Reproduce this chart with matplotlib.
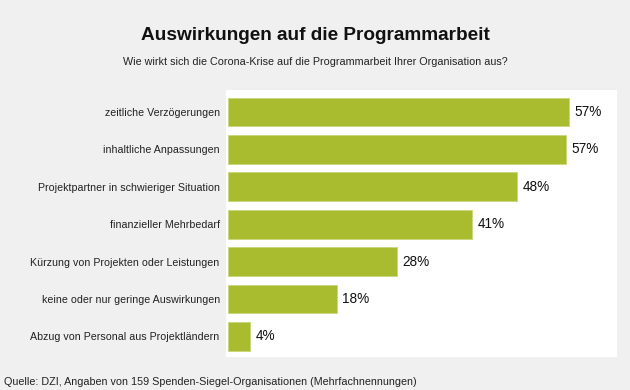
import matplotlib.pyplot as plt

categories = [
    "zeitliche Verzögerungen",
    "inhaltliche Anpassungen",
    "Projektpartner in schwieriger Situation",
    "finanzieller Mehrbedarf",
    "Kürzung von Projekten oder Leistungen",
    "keine oder nur geringe Auswirkungen",
    "Abzug von Personal aus Projektländern",
]
values = [56.9, 56.4, 48.2, 40.7, 28.2, 18.2, 3.7]
value_labels = ["57%", "57%", "48%", "41%", "28%", "18%", "4%"]

title = "Auswirkungen auf die Programmarbeit"
subtitle = "Wie wirkt sich die Corona-Krise auf die Programmarbeit Ihrer Organisation aus?"
source = "Quelle: DZI, Angaben von 159 Spenden-Siegel-Organisationen (Mehrfachnennungen)"

plt.rcParams['font.family'] = ['Liberation Sans', 'DejaVu Sans']

W, H = 630, 390
fig = plt.figure(figsize=(W / 100, H / 100), dpi=100)
fig.patch.set_facecolor('#f0f0f0')

left, right, top, bottom = 226, 617, 90, 357
ax = fig.add_axes([left / W, 1 - bottom / H, (right - left) / W, (bottom - top) / H])
ax.set_facecolor('white')

y = list(range(len(categories)))
ax.barh(y, values, height=0.77, color='#a9bc2f', edgecolor='#c9d67a', linewidth=0.6)
ax.set_xlim(-0.33, 64.9)
ax.set_ylim(6.55, -0.59)

for yi, v, lab in zip(y, values, value_labels):
    ax.text(v + 0.9, yi, lab, va='center', ha='left', fontsize=9.8, color='#111111')

ax.set_yticks(y)
ax.set_yticklabels(categories, fontsize=7.7, color='#222222')
ax.tick_params(axis='y', length=0, pad=4.5)
ax.set_xticks([])
for s in ax.spines.values():
    s.set_visible(False)

fig.text(0.5, 1 - 35 / H, title, ha='center', va='center', fontsize=13.7, fontweight='bold', color='#111111')
fig.text(315 / W, 1 - 62 / H, subtitle, ha='center', va='center', fontsize=7.74, color='#222222')
fig.text(4 / W, 1 - 382 / H, source, ha='left', va='center', fontsize=7.72, color='#222222')

fig.savefig('out.png', dpi=100, facecolor=fig.get_facecolor())
